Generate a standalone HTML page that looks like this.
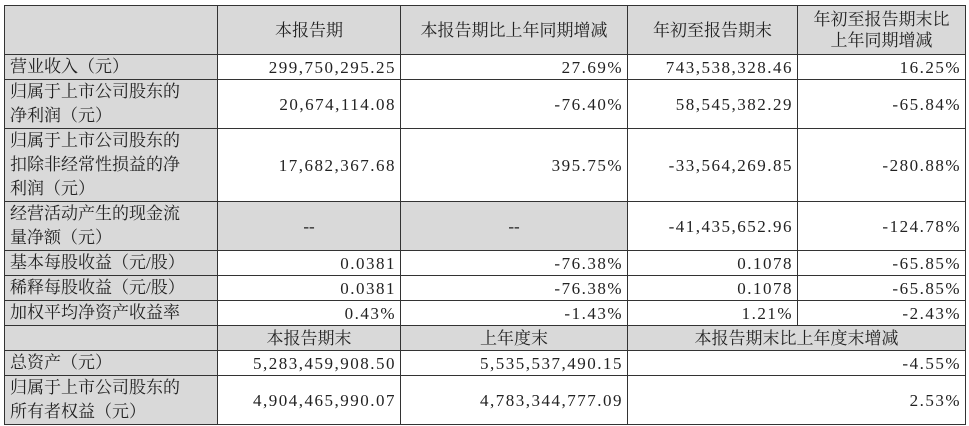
<!DOCTYPE html>
<html><head><meta charset="utf-8"><style>
html,body{margin:0;padding:0;background:#fff;width:969px;height:426px;overflow:hidden}
table{position:absolute;left:4px;top:5px;border-collapse:collapse;table-layout:fixed;font-family:"Liberation Serif","Noto Serif CJK SC",serif;font-size:17px;color:#222}
td{border:1.5px solid #333;padding:0 6px;line-height:23px;white-space:nowrap;overflow:hidden}
.g{background:#d9d9d9}
.r{text-align:right;letter-spacing:1.5px;padding-right:4px}
.c{text-align:center}
.l{text-align:left;white-space:normal;line-height:24px;padding-left:5px}
</style></head><body>
<table>
<colgroup><col style="width:213px"><col style="width:183px"><col style="width:227px"><col style="width:170px"><col style="width:168px"></colgroup>
<tr style="height:49px"><td class="g"></td><td class="g c">本报告期</td><td class="g c">本报告期比上年同期增减</td><td class="g c">年初至报告期末</td><td class="g c" style="line-height:21px">年初至报告期末比<br>上年同期增减</td></tr>
<tr style="height:25px"><td class="g l">营业收入（元）</td><td class="r">299,750,295.25</td><td class="r">27.69%</td><td class="r">743,538,328.46</td><td class="r">16.25%</td></tr>
<tr style="height:48px"><td class="g l">归属于上市公司股东的<br>净利润（元）</td><td class="r">20,674,114.08</td><td class="r">-76.40%</td><td class="r">58,545,382.29</td><td class="r">-65.84%</td></tr>
<tr style="height:72px"><td class="g l">归属于上市公司股东的<br>扣除非经常性损益的净<br>利润（元）</td><td class="r">17,682,367.68</td><td class="r">395.75%</td><td class="r">-33,564,269.85</td><td class="r">-280.88%</td></tr>
<tr style="height:49px"><td class="g l">经营活动产生的现金流<br>量净额（元）</td><td class="g c">--</td><td class="g c">--</td><td class="r">-41,435,652.96</td><td class="r">-124.78%</td></tr>
<tr style="height:24px"><td class="g l">基本每股收益（元/股）</td><td class="r">0.0381</td><td class="r">-76.38%</td><td class="r">0.1078</td><td class="r">-65.85%</td></tr>
<tr style="height:24px"><td class="g l">稀释每股收益（元/股）</td><td class="r">0.0381</td><td class="r">-76.38%</td><td class="r">0.1078</td><td class="r">-65.85%</td></tr>
<tr style="height:25px"><td class="g l">加权平均净资产收益率</td><td class="r">0.43%</td><td class="r">-1.43%</td><td class="r">1.21%</td><td class="r">-2.43%</td></tr>
<tr style="height:25px"><td class="g"></td><td class="g c">本报告期末</td><td class="g c">上年度末</td><td class="g c" colspan="2">本报告期末比上年度末增减</td></tr>
<tr style="height:25px"><td class="g l">总资产（元）</td><td class="r">5,283,459,908.50</td><td class="r">5,535,537,490.15</td><td class="r" colspan="2">-4.55%</td></tr>
<tr style="height:48px"><td class="g l">归属于上市公司股东的<br>所有者权益（元）</td><td class="r">4,904,465,990.07</td><td class="r">4,783,344,777.09</td><td class="r" colspan="2">2.53%</td></tr>
</table>
</body></html>
